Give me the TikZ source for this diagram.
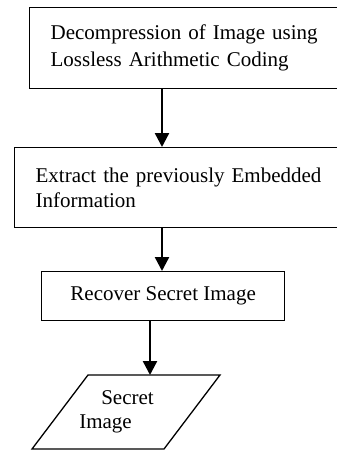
\documentclass[tikz,border=0pt]{standalone}
\usepackage{fontspec}
\setmainfont{Liberation Serif}
\usetikzlibrary{arrows.meta,positioning}
\tikzset{
  stepbox/.style={
    draw=black, line width=1.3pt, fill=white, inner xsep=21pt, inner ysep=0pt,
    align=left, anchor=north west, font=\fontsize{21}{27}\selectfont
  },
  iotext/.style={align=left, inner sep=0pt, font=\fontsize{21}{24}\selectfont},
  flow/.style={-{Triangle[width=14pt,length=14pt]}, line width=2.4pt, draw=black}
}

\begin{document}
\begin{tikzpicture}[x=1pt,y=-1pt]
  \useasboundingbox (0,0) rectangle (337,450);
  \clip (0,0) rectangle (337,450);
  % process boxes (cut off at the right edge)
  \node[stepbox, text width=278pt, minimum height=81pt] (decomp) at (29,7)
    {Decompression of Image using\\Lossless Arithmetic Coding};
  \node[stepbox, text width=293pt, minimum height=80pt,
        font=\fontsize{21}{25}\selectfont] (extract) at (14,147)
    {Extract the previously Embedded\\Information};
  \node[stepbox, align=center, minimum width=243pt, minimum height=49pt] (recover) at (41,271)
    {Recover Secret Image};
  % output parallelogram
  \coordinate (outtl) at (88,375);
  \coordinate (outtr) at (220,375);
  \coordinate (outbr) at (164,449);
  \coordinate (outbl) at (32,449);
  \coordinate (outtop) at (150,375);
  \draw[line width=1.3pt] (outtl) -- (outtr) -- (outbr) -- (outbl) -- cycle;
  \node[iotext] (secret) at (116.5,412) {\hspace*{22pt}Secret\\Image};
  % connectors
  \coordinate (colA) at (162,0);
  \coordinate (colB) at (150,0);
  \draw[flow] (decomp.south -| colA) -- (extract.north -| colA);
  \draw[flow] (extract.south -| colA) -- (recover.north -| colA);
  \draw[flow] (recover.south -| colB) -- (outtop);
\end{tikzpicture}
\end{document}
